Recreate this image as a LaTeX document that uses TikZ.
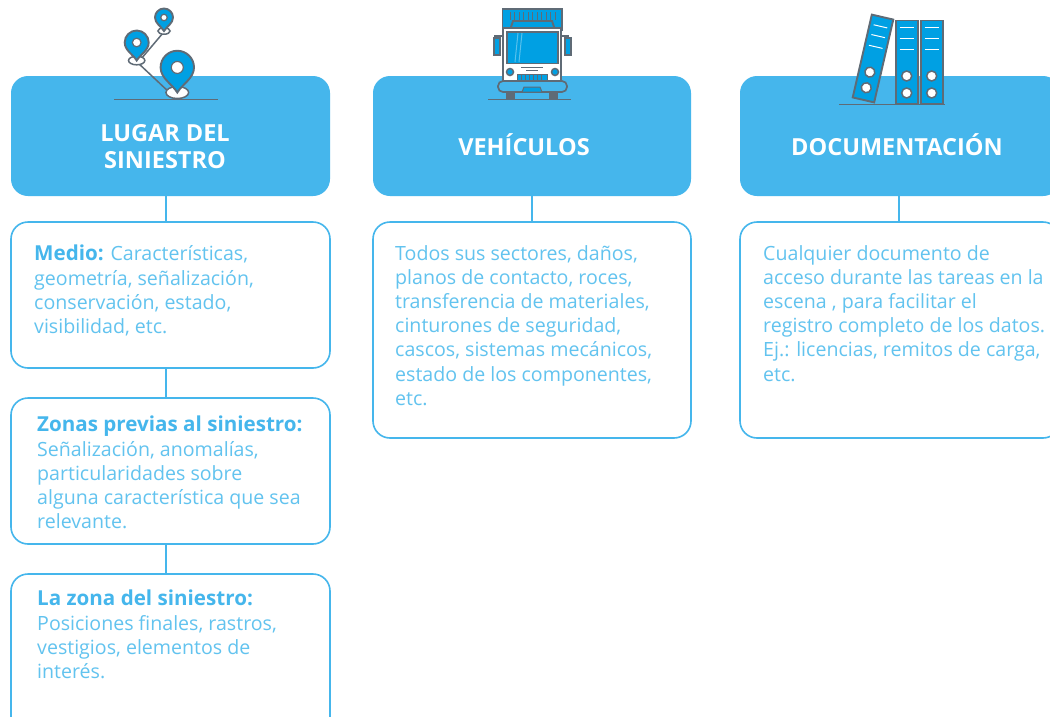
\documentclass[tikz,border=0pt]{standalone}
\usepackage{fontspec}
\setmainfont{Open Sans}
\definecolor{hdr}{HTML}{45B6EC}
\definecolor{txt}{HTML}{62C3EF}
\definecolor{bold}{HTML}{45B6EC}
\definecolor{ico}{HTML}{00A0E3}
\definecolor{gr}{HTML}{5F6B76}
\newcommand{\bh}[1]{{\color{bold}\fontsize{20.6}{24.2}\selectfont\bfseries #1}}
\tikzset{
 hdrbox/.style={fill=hdr,rounded corners=17pt,minimum height=120pt,inner sep=0,outer sep=0,anchor=north west},
 txtbox/.style={draw=hdr,fill=white,line width=1.6pt,rounded corners=17pt,inner sep=0,outer sep=0,anchor=north west},
 link/.style={draw=hdr,line width=2pt},
 hdrtext/.style={text=white,font=\fontsize{23.5}{27}\selectfont\bfseries,align=center},
 body/.style={text=txt,font=\fontsize{19.6}{24.2}\selectfont,align=left,anchor=north west,inner sep=0},
 ig/.style={draw=gr,line width=1.9pt},
 ib/.style={draw=gr,fill=ico,line width=1.9pt},
 iw/.style={draw=gr,fill=white,line width=1.5pt},
}
\newcommand{\pin}[3]{% x y(tip) r
 \fill[white,draw=gr,line width=1.5pt] (#1,#2) ellipse ({#3*0.68} and {#3*0.36});
 \path[ib] (#1,#2) .. controls ({#1-0.3*#3},{#2-0.5*#3}) and ({#1-#3},{#2-0.85*#3}) .. ({#1-#3},{#2-1.5*#3})
   arc[start angle=180,end angle=360,radius=#3] .. controls ({#1+#3},{#2-0.85*#3}) and ({#1+0.3*#3},{#2-0.5*#3}) .. cycle;
 \fill[white,draw=gr,line width=1.2pt] (#1,{#2-1.5*#3}) circle ({#3*0.36});
}
\begin{document}
\begin{tikzpicture}[x=1pt,y=-1pt]
\useasboundingbox (0,0) rectangle (1050,716);
\fill[white] (0,0) rectangle (1050,716);
\coordinate (xa) at (166,0);
\coordinate (xb) at (532,0);
\coordinate (xc) at (899,0);
\node[hdrbox,minimum width=319pt] (h1) at (11,76) {};
\node[hdrbox,minimum width=318pt] (h2) at (373,76) {};
\node[hdrbox,minimum width=320pt] (h3) at (740,76) {};
\node[txtbox,minimum width=319pt,minimum height=146pt] (b1) at (11,222) {};
\node[txtbox,minimum width=319pt,minimum height=146pt] (b2) at (11,398) {};
\node[txtbox,minimum width=319pt,minimum height=160pt] (b3) at (11,574) {};
\node[txtbox,minimum width=318pt,minimum height=216pt] (b4) at (373,222) {};
\node[txtbox,minimum width=320pt,minimum height=216pt] (b5) at (740,222) {};
\draw[link] (xa |- h1.south) -- (xa |- b1.north);
\draw[link] (xa |- b1.south) -- (xa |- b2.north);
\draw[link] (xa |- b2.south) -- (xa |- b3.north);
\draw[link] (xb |- h2.south) -- (xb |- b4.north);
\draw[link] (xc |- h3.south) -- (xc |- b5.north);
% headers
\node[hdrtext] (t1) at (165,146.5) {LUGAR DEL\\SINIESTRO};
\node[hdrtext] (t2) at (524,145) {VEHÍCULOS};
\node[hdrtext] (t3) at (897,145) {DOCUMENTACIÓN};
% bodies
\node[body] (c1) at (34,245) {\bh{Medio:} Características,\\geometría, señalización,\\conservación, estado,\\visibilidad, etc.};
\node[body] (c2) at (37,416) {\bh{Zonas previas al siniestro:}\\Señalización, anomalías,\\particularidades sobre\\alguna característica que sea\\relevante.};
\node[body] (c3) at (37,590) {\bh{La zona del siniestro:}\\Posiciones finales, rastros,\\vestigios, elementos de\\interés.};
\node[body] (c4) at (395,245) {Todos sus sectores, daños,\\planos de contacto, roces,\\transferencia de materiales,\\cinturones de seguridad,\\cascos, sistemas mecánicos,\\estado de los componentes,\\etc.};
\node[body] (c5) at (763,245) {Cualquier documento de\\acceso durante las tareas en la\\escena , para facilitar el\\registro completo de los datos.\\Ej.: licencias, remitos de carga,\\etc.};
% icon: map pins
\draw[ig] (114,99.5) -- (218,99.5);
\draw[ig,line width=1.5pt] (137,62) -- (170,93);
\draw[ig,line width=1.5pt] (141,59) -- (163,33);
\pin{164}{31}{9}
\pin{136.7}{60.5}{12}
\pin{177.3}{92.5}{16.7}
% icon: truck
\draw[ig] (488,99.5) -- (571,99.5);
\path[ib] (502.5,9) rectangle (562,30);
\foreach \x in {510,514.5,...,556}{\draw[gr,line width=1pt] (\x,12)--(\x,20);}
\path[ib] (510,30) -- (513,21) -- (552,21) -- (555,30) -- cycle;
\draw[iw,line width=1.7pt] (503,28) rectangle (561,81);
\path[ib] (507,32) rectangle (558,63.5);
\draw[white,opacity=.35,line width=1pt] (518,33)--(515,62) (522,33)--(519,62);
\draw[gr,line width=1.2pt] (494,36) -- (503,36) (561,36) -- (569,36);
\path[ib] (494,38) rectangle (500,55);
\path[ib] (565,38) rectangle (571,55);
\path[ib,line width=1.5pt] (510,72) circle (3.5);
\path[ib,line width=1.5pt] (555,72) circle (3.5);
\draw[gr,line width=1pt] (521,67) -- (543,67) (526,70.5) -- (538,70.5);
\path[ib,line width=1pt] (517,74.5) rectangle (547,81);
\foreach \x in {521,525,...,543}{\draw[gr,line width=.8pt] (\x,75)--(\x,81);}
\draw[draw=gr,fill=hdr,line width=1.7pt,rounded corners=5pt] (498,81) rectangle (567,92);
\path[ib,line width=1pt] (522,92) -- (524,87) -- (540,87) -- (542,92) -- cycle;
\fill[gr] (506,92) rectangle (515,99);
\fill[gr] (549,92) rectangle (558,99);
% icon: binders
\draw[ig] (839,104.5) -- (945,104.5);
\foreach \x/\w in {895.7/22,920.7/22}{
 \path[ib] (\x,20.5) rectangle ({\x+\w},104);
 \foreach \y in {27,38,49}{\draw[white,line width=1pt] ({\x+4},\y)--({\x+18},\y);}
 \path[iw] ({\x+11},76) circle (5);
 \path[iw] ({\x+11},93) circle (5);
}
\begin{scope}[shift={(873,58.5)},rotate=-13]
 \path[ib] (-11,-42.5) rectangle (11,42.5);
 \foreach \y in {-33,-23,-12}{\draw[white,line width=1pt] (-7,\y)--(7,\y);}
 \path[iw] (0,14) circle (5);
 \path[iw] (0,30) circle (5);
\end{scope}
\end{tikzpicture}
\end{document}
